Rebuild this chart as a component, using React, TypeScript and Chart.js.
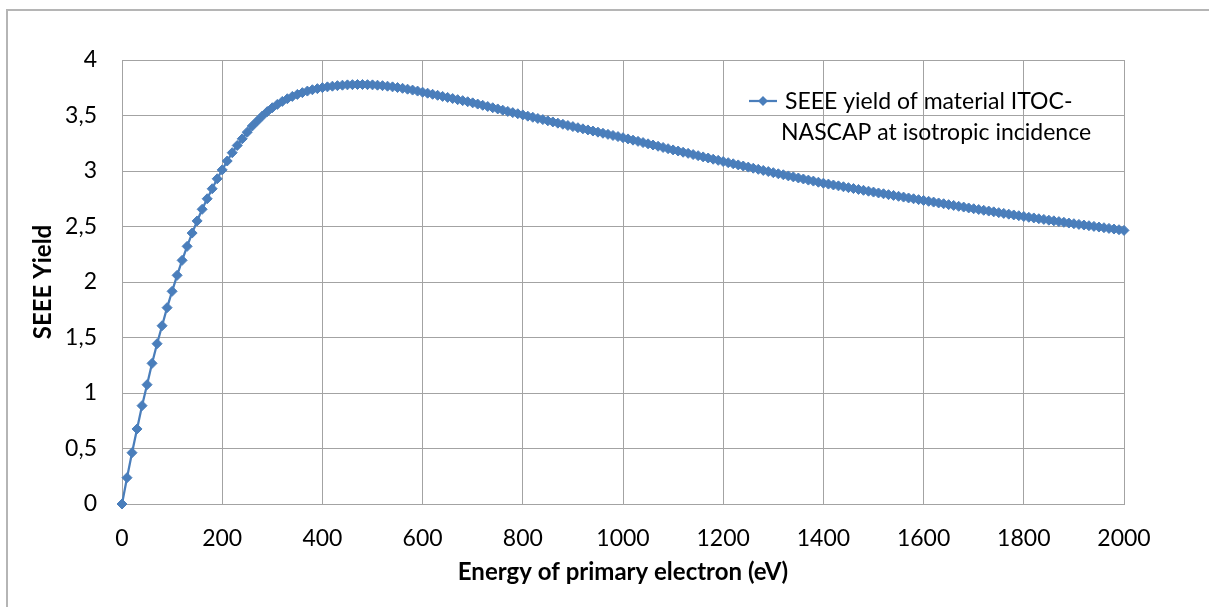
import { useEffect, useRef } from "react";
import { Chart, registerables } from "chart.js";

Chart.register(...registerables);

const energies = [
  0, 10, 20, 30, 40, 50, 60, 70, 80, 90,
  100, 110, 120, 130, 140, 150, 160, 170, 180, 190,
  200, 210, 220, 230, 240, 250, 260, 270, 280, 290,
  300, 310, 320, 330, 340, 350, 360, 370, 380, 390,
  400, 410, 420, 430, 440, 450, 460, 470, 480, 490,
  500, 510, 520, 530, 540, 550, 560, 570, 580, 590,
  600, 610, 620, 630, 640, 650, 660, 670, 680, 690,
  700, 710, 720, 730, 740, 750, 760, 770, 780, 790,
  800, 810, 820, 830, 840, 850, 860, 870, 880, 890,
  900, 910, 920, 930, 940, 950, 960, 970, 980, 990,
  1000, 1010, 1020, 1030, 1040, 1050, 1060, 1070, 1080, 1090,
  1100, 1110, 1120, 1130, 1140, 1150, 1160, 1170, 1180, 1190,
  1200, 1210, 1220, 1230, 1240, 1250, 1260, 1270, 1280, 1290,
  1300, 1310, 1320, 1330, 1340, 1350, 1360, 1370, 1380, 1390,
  1400, 1410, 1420, 1430, 1440, 1450, 1460, 1470, 1480, 1490,
  1500, 1510, 1520, 1530, 1540, 1550, 1560, 1570, 1580, 1590,
  1600, 1610, 1620, 1630, 1640, 1650, 1660, 1670, 1680, 1690,
  1700, 1710, 1720, 1730, 1740, 1750, 1760, 1770, 1780, 1790,
  1800, 1810, 1820, 1830, 1840, 1850, 1860, 1870, 1880, 1890,
  1900, 1910, 1920, 1930, 1940, 1950, 1960, 1970, 1980, 1990,
  2000,
];

const seeeYield = [
  0, 0.237, 0.462, 0.676, 0.886, 1.075, 1.267, 1.444, 1.606, 1.769,
  1.916, 2.06, 2.195, 2.321, 2.441, 2.55, 2.655, 2.75, 2.84, 2.93,
  3.01, 3.09, 3.165, 3.23, 3.29, 3.35, 3.405, 3.45, 3.495, 3.535,
  3.57, 3.6, 3.627, 3.651, 3.672, 3.69, 3.706, 3.72, 3.732, 3.742,
  3.751, 3.758, 3.764, 3.769, 3.773, 3.776, 3.778, 3.779, 3.779, 3.778,
  3.776, 3.773, 3.769, 3.764, 3.758, 3.752, 3.745, 3.737, 3.729, 3.72,
  3.71, 3.701, 3.691, 3.682, 3.672, 3.663, 3.653, 3.643, 3.634, 3.624,
  3.614, 3.603, 3.592, 3.581, 3.57, 3.559, 3.548, 3.537, 3.526, 3.516,
  3.505, 3.494, 3.484, 3.473, 3.463, 3.452, 3.442, 3.431, 3.421, 3.41,
  3.4, 3.39, 3.38, 3.37, 3.36, 3.35, 3.34, 3.33, 3.32, 3.31,
  3.3, 3.289, 3.278, 3.267, 3.256, 3.245, 3.234, 3.223, 3.212, 3.201,
  3.19, 3.18, 3.169, 3.159, 3.148, 3.138, 3.127, 3.117, 3.106, 3.096,
  3.085, 3.075, 3.065, 3.055, 3.045, 3.035, 3.025, 3.015, 3.005, 2.995,
  2.985, 2.975, 2.966, 2.956, 2.947, 2.937, 2.928, 2.918, 2.909, 2.899,
  2.89, 2.882, 2.874, 2.866, 2.858, 2.85, 2.842, 2.834, 2.826, 2.818,
  2.81, 2.802, 2.795, 2.787, 2.78, 2.772, 2.765, 2.757, 2.75, 2.742,
  2.735, 2.727, 2.72, 2.712, 2.705, 2.697, 2.69, 2.682, 2.675, 2.667,
  2.66, 2.653, 2.646, 2.639, 2.632, 2.625, 2.618, 2.611, 2.604, 2.597,
  2.59, 2.583, 2.577, 2.57, 2.564, 2.557, 2.551, 2.544, 2.538, 2.531,
  2.525, 2.519, 2.513, 2.507, 2.501, 2.495, 2.489, 2.483, 2.477, 2.471,
  2.465,
];

const legendLines = ["SEEE yield of material ITOC-", "NASCAP at isotropic incidence"];
const xAxisTitle = "Energy of primary electron (eV)";
const yAxisTitle = "SEEE Yield";

const LINE_COLOR = "#4a7ebb";
const GRID_COLOR = "#a3a3a3";
const FONT = "Lato";

const legendPlugin = {
  id: "customLegend",
  afterDraw(chart: any) {
    const ctx = chart.ctx;
    ctx.save();
    ctx.strokeStyle = LINE_COLOR;
    ctx.lineWidth = 2.25;
    ctx.beginPath();
    ctx.moveTo(749, 101);
    ctx.lineTo(777, 101);
    ctx.stroke();
    ctx.fillStyle = LINE_COLOR;
    ctx.beginPath();
    ctx.moveTo(763, 96);
    ctx.lineTo(768, 101);
    ctx.lineTo(763, 106);
    ctx.lineTo(758, 101);
    ctx.closePath();
    ctx.fill();
    ctx.fillStyle = "#000";
    ctx.font = `23px ${FONT}`;
    ctx.textAlign = "left";
    ctx.textBaseline = "alphabetic";
    ctx.fillText(legendLines[0], 785, 109);
    ctx.fillText(legendLines[1], 781, 140);
    ctx.restore();
  },
};

export default function App() {
  const canvasRef = useRef<HTMLCanvasElement | null>(null);

  useEffect(() => {
    const canvas = canvasRef.current;
    if (!canvas) return;
    const points = energies.map((e, i) => ({ x: e, y: seeeYield[i] }));
    const chart = new Chart(canvas, {
      type: "line",
      data: {
        datasets: [
          {
            label: legendLines.join(" "),
            data: points,
            borderColor: LINE_COLOR,
            backgroundColor: LINE_COLOR,
            borderWidth: 2.25,
            pointStyle: "rectRot",
            pointRadius: 5,
            pointBorderWidth: 1,
            pointBackgroundColor: LINE_COLOR,
            pointBorderColor: LINE_COLOR,
            tension: 0,
            clip: false as any,
          },
        ],
      },
      options: {
        animation: false,
        responsive: false,
        devicePixelRatio: 1,
        layout: { padding: { left: 0, right: 85, top: 60, bottom: 0 } },
        plugins: {
          legend: { display: false },
          tooltip: { enabled: false },
        },
        scales: {
          x: {
            type: "linear",
            min: 0,
            max: 2000,
            afterFit: (s: any) => {
              s.height = 103;
            },
            ticks: {
              stepSize: 200,
              color: "#000",
              font: { family: FONT, size: 23 },
              padding: 21,
              maxRotation: 0,
              callback: (v: any) => String(v),
            },
            grid: { color: GRID_COLOR, drawTicks: false, lineWidth: 1 },
            border: { color: GRID_COLOR },
            title: {
              display: true,
              text: xAxisTitle,
              color: "#000",
              font: { family: FONT, size: 24, weight: "bold" },
              padding: { top: 0, bottom: 20 },
            },
          },
          y: {
            type: "linear",
            min: 0,
            max: 4,
            afterFit: (s: any) => {
              s.width = 122;
            },
            ticks: {
              stepSize: 0.5,
              color: "#000",
              font: { family: FONT, size: 23 },
              padding: 25,
              callback: (v: any) => String(v).replace(".", ","),
            },
            grid: { color: GRID_COLOR, drawTicks: false, lineWidth: 1 },
            border: { color: GRID_COLOR },
            title: {
              display: true,
              text: yAxisTitle,
              color: "#000",
              font: { family: FONT, size: 24, weight: "bold" },
              padding: { top: 29, bottom: 0 },
            },
          },
        },
      },
      plugins: [legendPlugin],
    });
    return () => chart.destroy();
  }, []);

  return (
    <div
      style={{
        position: "fixed",
        left: 0,
        top: 0,
        width: 1209,
        height: 607,
        overflow: "hidden",
        background: "#fff",
      }}
    >
      <div
        style={{
          position: "absolute",
          left: 6,
          top: 9,
          width: 1400,
          height: 800,
          border: "2px solid #b5b5b5",
        }}
      />
      <canvas
        ref={canvasRef}
        width={1209}
        height={607}
        style={{ position: "absolute", left: 0, top: 0, width: 1209, height: 607 }}
      />
    </div>
  );
}
